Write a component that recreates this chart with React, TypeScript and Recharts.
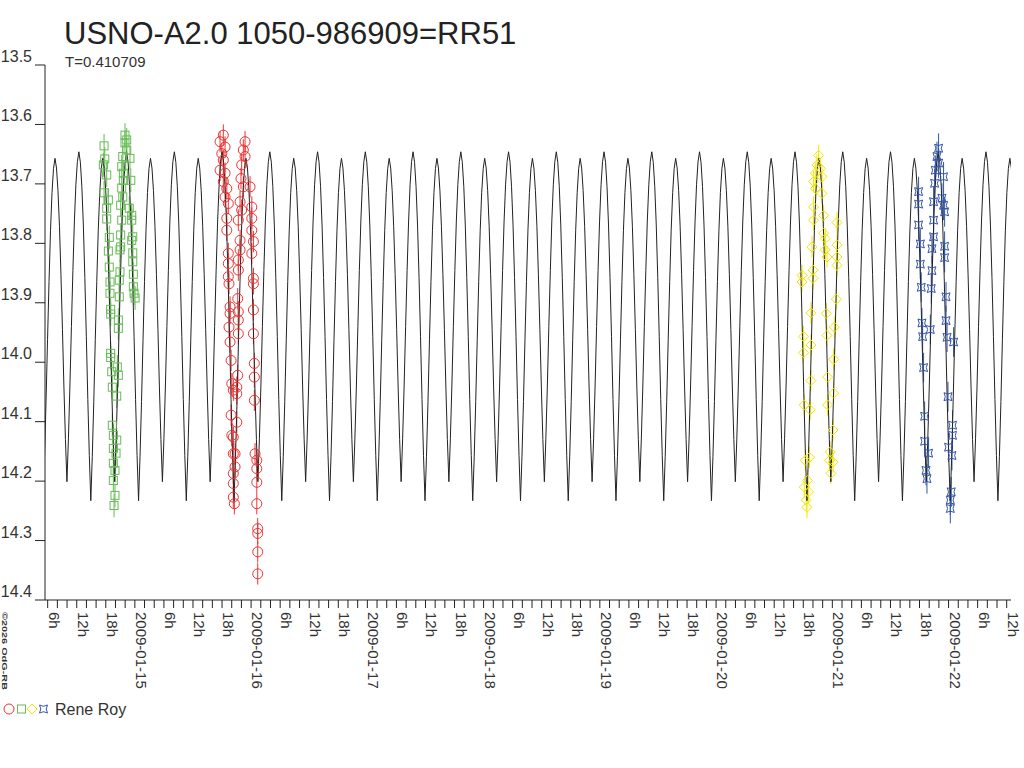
import { ComposedChart, Line, Scatter, XAxis, YAxis, ErrorBar } from 'recharts';

const FONT = 'Arial, "Liberation Sans", sans-serif';

// time = days since 2009-01-14 00:00 UT, value = magnitude
const squaresGreen = [
  [0.735, 13.636], [0.741, 13.658], [0.729, 13.668], [0.758, 13.685], [0.735, 13.715], [0.772, 13.727],
  [0.758, 13.741], [0.758, 13.759], [0.78, 13.79], [0.772, 13.813], [0.78, 13.84], [0.786, 13.865],
  [0.786, 13.884], [0.792, 13.911], [0.792, 13.919], [0.792, 13.985], [0.792, 13.992], [0.801, 14.016],
  [0.806, 14.042], [0.844, 14.057], [0.806, 14.106], [0.815, 14.123], [0.844, 14.131], [0.815, 14.145],
  [0.838, 14.153], [0.815, 14.17], [0.829, 14.182], [0.815, 14.199], [0.829, 14.224], [0.821, 14.241],
  [0.858, 13.929], [0.858, 13.943], [0.849, 14.008], [0.858, 14.022], [0.866, 13.89], [0.866, 13.862],
  [0.872, 13.848], [0.872, 13.811], [0.878, 13.806], [0.878, 13.786], [0.887, 13.761], [0.878, 13.736],
  [0.896, 13.722], [0.887, 13.707], [0.887, 13.671], [0.896, 13.654], [0.915, 13.631], [0.915, 13.618],
  [0.93, 13.626], [0.93, 13.643], [0.901, 13.682], [0.901, 13.694],
  [0.958, 13.657], [0.965, 13.694], [0.952, 13.741], [0.973, 13.753], [0.973, 13.761], [0.982, 13.789],
  [0.973, 13.795], [0.982, 13.816], [0.982, 13.831], [0.987, 13.852], [0.987, 13.873], [0.993, 13.884],
  [1.002, 13.892],
];

const circlesRed = [
  [1.761, 13.618], [1.733, 13.629], [1.776, 13.638], [1.748, 13.649], [1.761, 13.66], [1.733, 13.677],
  [1.776, 13.682], [1.761, 13.696], [1.791, 13.708], [1.776, 13.722], [1.804, 13.733], [1.791, 13.758],
  [1.791, 13.778], [1.804, 13.817], [1.804, 13.834], [1.804, 13.856], [1.81, 13.868], [1.819, 13.907],
  [1.819, 13.918], [1.81, 13.941], [1.819, 13.966], [1.828, 13.997], [1.834, 14.036], [1.847, 14.047],
  [1.828, 14.089], [1.834, 14.123], [1.847, 14.154], [1.847, 14.187], [1.847, 14.204], [1.847, 14.227],
  [1.856, 14.238],
  [1.948, 13.629], [1.933, 13.643], [1.948, 13.654], [1.919, 13.668], [1.913, 13.691], [1.933, 13.705],
  [1.905, 13.73], [1.919, 13.744], [1.89, 13.761], [1.905, 13.795], [1.905, 13.811], [1.89, 13.828],
  [1.89, 13.845], [1.885, 13.893], [1.89, 13.915], [1.89, 13.929], [1.89, 13.952], [1.885, 14.022],
  [1.877, 14.042], [1.877, 14.053], [1.877, 14.101], [1.847, 14.126], [1.862, 14.154], [1.862, 14.176],
  [1.991, 13.705], [2.006, 13.739], [2.006, 13.758], [2.006, 13.778], [2.02, 13.797], [2.006, 13.817],
  [2.02, 13.859], [2.02, 13.868], [2.02, 13.912], [2.02, 13.952], [2.028, 14.002], [2.028, 14.025],
  [2.028, 14.064], [2.034, 14.154], [2.049, 14.165], [2.049, 14.179], [2.049, 14.202], [2.049, 14.238],
  [2.057, 14.28], [2.057, 14.288], [2.057, 14.319], [2.057, 14.356],
];

const diamondsYellow = [
  [6.882, 13.652], [6.868, 13.668], [6.897, 13.674], [6.854, 13.682], [6.911, 13.688], [6.839, 13.696],
  [6.854, 13.708], [6.911, 13.716], [6.839, 13.739], [6.925, 13.753], [6.839, 13.761], [7.04, 13.765],
  [6.925, 13.783], [6.939, 13.792], [6.825, 13.806], [7.04, 13.803], [6.939, 13.811], [6.954, 13.823],
  [7.04, 13.823], [7.04, 13.837], [6.739, 13.854], [6.834, 13.845], [6.739, 13.865], [6.834, 13.859],
  [7.034, 13.894], [6.816, 13.917], [6.948, 13.918], [7.017, 13.941], [6.954, 13.955], [6.753, 13.957],
  [6.816, 13.971], [6.753, 13.984], [7.011, 13.995], [6.816, 14.031], [6.959, 14.025], [7.011, 14.052],
  [6.759, 14.072], [6.81, 14.08], [6.959, 14.072], [7.006, 14.114], [6.767, 14.165], [6.804, 14.16],
  [6.982, 14.151], [6.976, 14.165], [7.006, 14.168], [6.988, 14.187], [6.787, 14.199], [6.759, 14.21],
  [6.796, 14.218], [6.776, 14.232], [6.782, 14.244],
];

const starsBlue = [
  [7.914, 13.64], [7.9, 13.654], [7.914, 13.665], [7.886, 13.677], [7.957, 13.688], [7.88, 13.699],
  [7.742, 13.713], [7.943, 13.724], [7.871, 13.73], [7.742, 13.734], [7.957, 13.736], [7.966, 13.747],
  [7.742, 13.769], [7.871, 13.761], [7.871, 13.789], [7.757, 13.801], [7.857, 13.809], [7.966, 13.805],
  [7.966, 13.824], [7.757, 13.835], [7.857, 13.846], [7.765, 13.874], [7.851, 13.876], [7.978, 13.89],
  [7.771, 13.934], [7.978, 13.93], [7.843, 13.945], [7.777, 13.957], [7.987, 13.958], [8.043, 13.966],
  [7.785, 14.009], [7.995, 14.058], [7.794, 14.091], [8.034, 14.106], [7.794, 14.133], [8.034, 14.123],
  [7.828, 14.153], [8.0, 14.143], [8.029, 14.157], [7.806, 14.182], [7.814, 14.196], [8.023, 14.218],
  [8.015, 14.232], [8.015, 14.246],
];

const errGreen = 0.02;
const errRed = 0.018;
const errYellow = 0.018;
const errBlue = 0.025;

// model light curve: two maxima per period T
const periodT = 0.410709;
const firstPeak = 0.313;
const peakCount = 41;
const peakMags = [13.657, 13.646];
const troughMags = [14.201, 14.233];
const shapePhase = [0, 0.0625, 0.125, 0.1875, 0.25, 0.3125, 0.375, 0.4375, 0.5];
const shapeDepth = [0, 0.03, 0.1, 0.21, 0.36, 0.53, 0.71, 0.87, 1];

const xDomain = [0.227, 8.537];
const yTicks = [13.5, 13.6, 13.7, 13.8, 13.9, 14.0, 14.1, 14.2, 14.3, 14.4];
const dayLabels = ['2009-01-15', '2009-01-16', '2009-01-17', '2009-01-18', '2009-01-19', '2009-01-20', '2009-01-21', '2009-01-22'];
const hourLabels: Record<number, string> = { 6: '6h', 12: '12h', 18: '18h' };

const xTicks: number[] = [];
for (let k = 3; k <= 102; k++) xTicks.push(k / 12);

const toPoints = (rows: number[][], err: number) => rows.map(([t, mag]) => ({ t, mag, err }));

const curveData: { t: number; mag: number }[] = [];
{
  const half = periodT / 2;
  const last = shapePhase.length - 1;
  for (let k = -1; k <= peakCount; k++) {
    const peakT = firstPeak + k * half;
    const pk = peakMags[(k + 2) % 2];
    const tr = troughMags[(k + 2) % 2];
    const nextPk = peakMags[(k + 3) % 2];
    for (let i = 0; i < last; i++) {
      curveData.push({ t: peakT + shapePhase[i] * half, mag: pk + shapeDepth[i] * (tr - pk) });
    }
    for (let i = last; i > 0; i--) {
      curveData.push({ t: peakT + (1 - shapePhase[i]) * half, mag: nextPk + shapeDepth[i] * (tr - nextPk) });
    }
  }
}

const RED = '#ee3333';
const GREEN = '#66bb55';
const YELLOW = '#f2e600';
const BLUE = '#3355aa';

const starPath = (cx: number, cy: number, s: number) =>
  `M${cx - s},${cy - s} Q${cx},${cy - s * 0.35} ${cx + s},${cy - s} Q${cx + s * 0.35},${cy} ${cx + s},${cy + s} ` +
  `Q${cx},${cy + s * 0.35} ${cx - s},${cy + s} Q${cx - s * 0.35},${cy} ${cx - s},${cy - s} Z`;

const Circle = ({ cx, cy }: any) => <circle cx={cx} cy={cy} r={5} fill="none" stroke={RED} strokeWidth={1} />;
const Square = ({ cx, cy }: any) => <rect x={cx - 4} y={cy - 4} width={8} height={8} fill="none" stroke={GREEN} strokeWidth={1} />;
const Diamond = ({ cx, cy }: any) => (
  <path d={`M${cx},${cy - 5} L${cx + 5},${cy} L${cx},${cy + 5} L${cx - 5},${cy} Z`} fill="none" stroke={YELLOW} strokeWidth={1} />
);
const Star = ({ cx, cy }: any) => <path d={starPath(cx, cy, 4)} fill="none" stroke={BLUE} strokeWidth={1} />;

const xLabel = (v: number) => {
  const h = Math.round(v * 24);
  if (h % 24 === 0) return dayLabels[h / 24 - 1] ?? '';
  return hourLabels[h % 24] ?? '';
};

const XTick = ({ x, y, payload }: any) => {
  const label = xLabel(payload.value);
  if (!label) return null;
  return (
    <g transform={`translate(${x},${y})`}>
      <text transform="rotate(90)" x={2} y={-1} fontSize={15} fill="#333" fontFamily={FONT}>
        {label}
      </text>
    </g>
  );
};

const YTick = ({ x, y, payload }: any) => (
  <text x={x - 1} y={y - 3} textAnchor="end" fontSize={16} fill="#333" fontFamily={FONT}>
    {payload.value.toFixed(1)}
  </text>
);

export default function App() {
  return (
    <div style={{ position: 'absolute', left: 0, top: 0, width: 1024, height: 768, background: '#fff' }}>
      <ComposedChart width={1024} height={768} margin={{ top: 65, right: 13, left: 0, bottom: 88 }}>
        <XAxis
          dataKey="t"
          type="number"
          domain={xDomain}
          allowDataOverflow
          ticks={xTicks}
          interval={0}
          tickSize={8}
          height={80}
          stroke="#222"
          tick={<XTick />}
        />
        <YAxis
          dataKey="mag"
          type="number"
          domain={[13.5, 14.4]}
          reversed
          allowDataOverflow
          ticks={yTicks}
          interval={0}
          tickSize={10}
          width={45}
          stroke="#222"
          tick={<YTick />}
        />
        <Scatter data={toPoints(squaresGreen, errGreen)} shape={<Square />} isAnimationActive={false}>
          <ErrorBar dataKey="err" direction="y" width={0} stroke={GREEN} strokeWidth={1} />
        </Scatter>
        <Scatter data={toPoints(circlesRed, errRed)} shape={<Circle />} isAnimationActive={false}>
          <ErrorBar dataKey="err" direction="y" width={0} stroke={RED} strokeWidth={1} />
        </Scatter>
        <Scatter data={toPoints(diamondsYellow, errYellow)} shape={<Diamond />} isAnimationActive={false}>
          <ErrorBar dataKey="err" direction="y" width={0} stroke={YELLOW} strokeWidth={1} />
        </Scatter>
        <Scatter data={toPoints(starsBlue, errBlue)} shape={<Star />} isAnimationActive={false}>
          <ErrorBar dataKey="err" direction="y" width={0} stroke={BLUE} strokeWidth={1} />
        </Scatter>
        <Line
          data={curveData}
          dataKey="mag"
          type="linear"
          stroke="#222"
          strokeWidth={1}
          dot={false}
          activeDot={false}
          isAnimationActive={false}
        />
      </ComposedChart>
      <svg width={1024} height={768} style={{ position: 'absolute', left: 0, top: 0, pointerEvents: 'none' }}>
        <text x={64} y={44} fontSize={31} fill="#222" fontFamily={FONT}>
          USNO-A2.0 1050-986909=RR51
        </text>
        <text x={65} y={67} fontSize={15} fill="#333" fontFamily={FONT}>
          T=0.410709
        </text>
        <g transform="translate(2,612)">
          <text transform="rotate(90)" x={0} y={0} fontSize={8} fontWeight="bold" fill="#333" fontFamily={FONT} textLength={78} lengthAdjust="spacingAndGlyphs">
            ©2026 OdG-RB
          </text>
        </g>
        <circle cx={9} cy={709} r={5} fill="none" stroke={RED} />
        <rect x={17.5} y={705} width={8} height={8} fill="none" stroke={GREEN} />
        <path d="M32,704 L37,709 L32,714 L27,709 Z" fill="none" stroke={YELLOW} />
        <path d={starPath(43.5, 709, 4)} fill="none" stroke={BLUE} />
        <text x={55} y={715} fontSize={16} fill="#333" fontFamily={FONT}>
          Rene Roy
        </text>
      </svg>
    </div>
  );
}
